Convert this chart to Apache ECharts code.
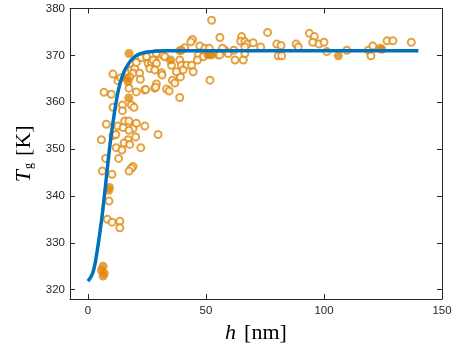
<!DOCTYPE html>
<html>
<head>
<meta charset="utf-8">
<script src="https://cdn.jsdelivr.net/npm/echarts@6/dist/echarts.min.js"></script>
<style>
  html, body { margin: 0; padding: 0; background: #fff; }
  #chart { width: 463px; height: 353px; }
</style>
</head>
<body>
<div id="chart"></div>
<script>
// open circles: measured Tg vs film thickness
const openPts = [
  [5.7,352],[7.8,355.3],[10.6,358.9],[14.6,359.4],[14.6,358.2],[18.4,359.4],[19.5,358.9],
  [10.6,352.9],[11.8,353.1],[12.7,354.9],[14.9,354.6],[15.6,356],[17.3,356],[19.1,354.4],
  [20.5,355.5],[24.1,354.9],[29.7,353.1],[17.4,354],[20.2,352.6],[17,352],[15.3,351.3],
  [17.7,351],[12,350.3],[22.4,350.3],[7.5,348],[13,348],[19.1,346.3],[18.4,345.9],
  [17.4,345.3],[6.1,345.3],[10.2,344.6],[8.9,338.9],[8.2,335],[10.2,334.4],[13.5,334.6],
  [13.5,333.2],[14.4,349.8],[10.6,366],[12.7,364.6],[13.9,365.2],[18.4,366.9],[19.8,367.2],
  [19.1,366.2],[17.7,365.4],[20.5,368.5],[22.7,369.5],[24.8,369.7],[25.5,368.3],[26.9,368.4],
  [28.3,369],[26.2,367.2],[21.9,366.2],[22.2,364.9],[17.4,363],[20.5,362.2],[24.1,362.6],
  [28.3,363],[6.8,362.1],[9.9,361.7],[24.5,362.7],[29,363.9],[28.7,363.2],[33.3,362.8],
  [34.4,362.4],[35.8,364.7],[36.8,364.1],[39.2,365.4],[38.9,361],[31.1,366.3],[31.4,365.8],
  [52.4,377.5],[55.9,373.8],[44.3,373.4],[43.6,372.9],[47.4,372],[49.5,371.5],[51.4,371.5],
  [41,371.6],[39.6,371.1],[55.2,370.1],[46.7,370],[48.8,369.7],[29,370.4],[31.8,370],
  [27.6,369],[29,368.3],[32.6,369.7],[35.4,367.9],[38.9,369],[39.6,367.9],[41.8,367.9],
  [43.9,367.9],[46.4,369],[40.3,366.9],[44.6,366.5],[28.3,366.9],[51.7,364.7],[37.5,366.5],
  [65.1,374],[64.7,373],[66.5,372.9],[67.5,372.4],[70,372.7],[66.5,371.8],[76.1,374.9],
  [73.2,371.8],[80,372.4],[81.8,372.1],[80.6,369.9],[82.1,369.9],[88.2,372.4],[89.1,371.8],
  [93.8,374.7],[95.9,374],[95.2,372.8],[97.9,372.4],[100,372.8],[101.2,370.8],[58,371.1],
  [59.4,370.4],[61.8,371.1],[62.3,369],[65.8,369],[66.5,370.4],[109.7,371.1],[118.8,371.1],
  [119.9,369.9],[120.7,372],[126.7,373.1],[129.2,373.1],[137,372.8],[55.9,370.1],[57,371.5]
];

// filled circles
const filledPts = [
  [6.4,325],[5.7,324.1],[6.4,322.9],[6.9,323.5],[8.8,341.2],[9.1,341.8],[17.3,360.9],
  [16.7,365.1],[17,364.4],[17.4,370.4],[35,369],[38.9,371],[50.9,370.1],[52.4,370.1],
  [51.6,370.3],[106.1,369.9],[123.8,371.5],[124.5,371.3]
];

// fitted curve
const fitH  = [0, 1, 2, 3, 4, 5, 6, 7, 8, 9, 10, 11, 12, 13, 14, 15, 16, 18, 20, 22, 25, 28, 32, 40, 60, 100, 140];
const fitTg = [321.8, 322.5, 323.5, 325.5, 328.5, 332, 335.7, 340.2, 344.8, 349.5, 353.5, 357, 360.2, 362.8,
               364.7, 366.1, 367.2, 368.8, 369.8, 370.3, 370.7, 370.9, 371, 371, 371, 371, 371];

const xTicks = [0, 50, 100, 150];
const yTicks = [320, 330, 340, 350, 360, 370, 380];

const orange = '#E08A12';
const blue = '#0072BD';
const axisCol = '#262626';

const chart = echarts.init(document.getElementById('chart'));

const baseX = {
  type: 'value', min: -7.6, max: 150,
  splitLine: { show: false },
  axisLine: { show: true, onZero: false, lineStyle: { color: axisCol, width: 1 } },
  axisTick: { show: true, inside: true, length: 5, customValues: xTicks, lineStyle: { color: axisCol } }
};
const baseY = {
  type: 'value', min: 318, max: 380,
  splitLine: { show: false },
  axisLine: { show: true, onZero: false, lineStyle: { color: axisCol, width: 1 } },
  axisTick: { show: true, inside: true, length: 5, customValues: yTicks, lineStyle: { color: axisCol } }
};

chart.setOption({
  animation: false,
  grid: { left: 70, right: 21, top: 8.5, bottom: 54 },
  xAxis: [
    Object.assign({}, baseX, {
      position: 'bottom',
      axisLabel: { customValues: xTicks, color: axisCol, fontSize: 11.5, fontFamily: 'Liberation Sans', margin: 6 },
      name: '{i|h}{g| }{n|[nm]}',
      nameLocation: 'middle',
      nameGap: 21,
      nameTextStyle: {
        rich: {
          i: { fontFamily: 'Liberation Serif', fontStyle: 'italic', fontSize: 22, color: '#000' },
          g: { width: 8 },
          n: { fontFamily: 'Liberation Serif', fontSize: 22, color: '#000' }
        }
      }
    }),
    Object.assign({}, baseX, { position: 'top', axisLabel: { show: false } })
  ],
  yAxis: [
    Object.assign({}, baseY, {
      position: 'left',
      axisLabel: { customValues: yTicks, color: axisCol, fontSize: 11.5, fontFamily: 'Liberation Sans', margin: 5 },
      name: '{t|T}{s|g}{g| }{n|[K]}',
      nameLocation: 'middle',
      nameRotate: 90,
      nameGap: 34,
      nameTextStyle: {
        rich: {
          t: { fontFamily: 'Liberation Serif', fontStyle: 'italic', fontSize: 22, color: '#000' },
          s: { fontFamily: 'Liberation Serif', fontSize: 12, color: '#000', padding: [10, 0, 0, 1] },
          g: { width: 7 },
          n: { fontFamily: 'Liberation Serif', fontSize: 22, color: '#000' }
        }
      }
    }),
    Object.assign({}, baseY, { position: 'right', axisLabel: { show: false } })
  ],
  series: [
    {
      type: 'scatter',
      data: openPts,
      symbol: 'emptyCircle',
      symbolSize: 7,
      itemStyle: { color: orange, borderColor: orange, borderWidth: 1 },
      z: 2
    },
    {
      type: 'scatter',
      data: filledPts,
      symbol: 'circle',
      symbolSize: 9,
      itemStyle: { color: orange },
      z: 3
    },
    {
      type: 'line',
      data: fitH.map((h, i) => [h, fitTg[i]]),
      smooth: 0.3,
      showSymbol: false,
      lineStyle: { color: blue, width: 3.5 },
      z: 4
    }
  ]
});
</script>
</body>
</html>
